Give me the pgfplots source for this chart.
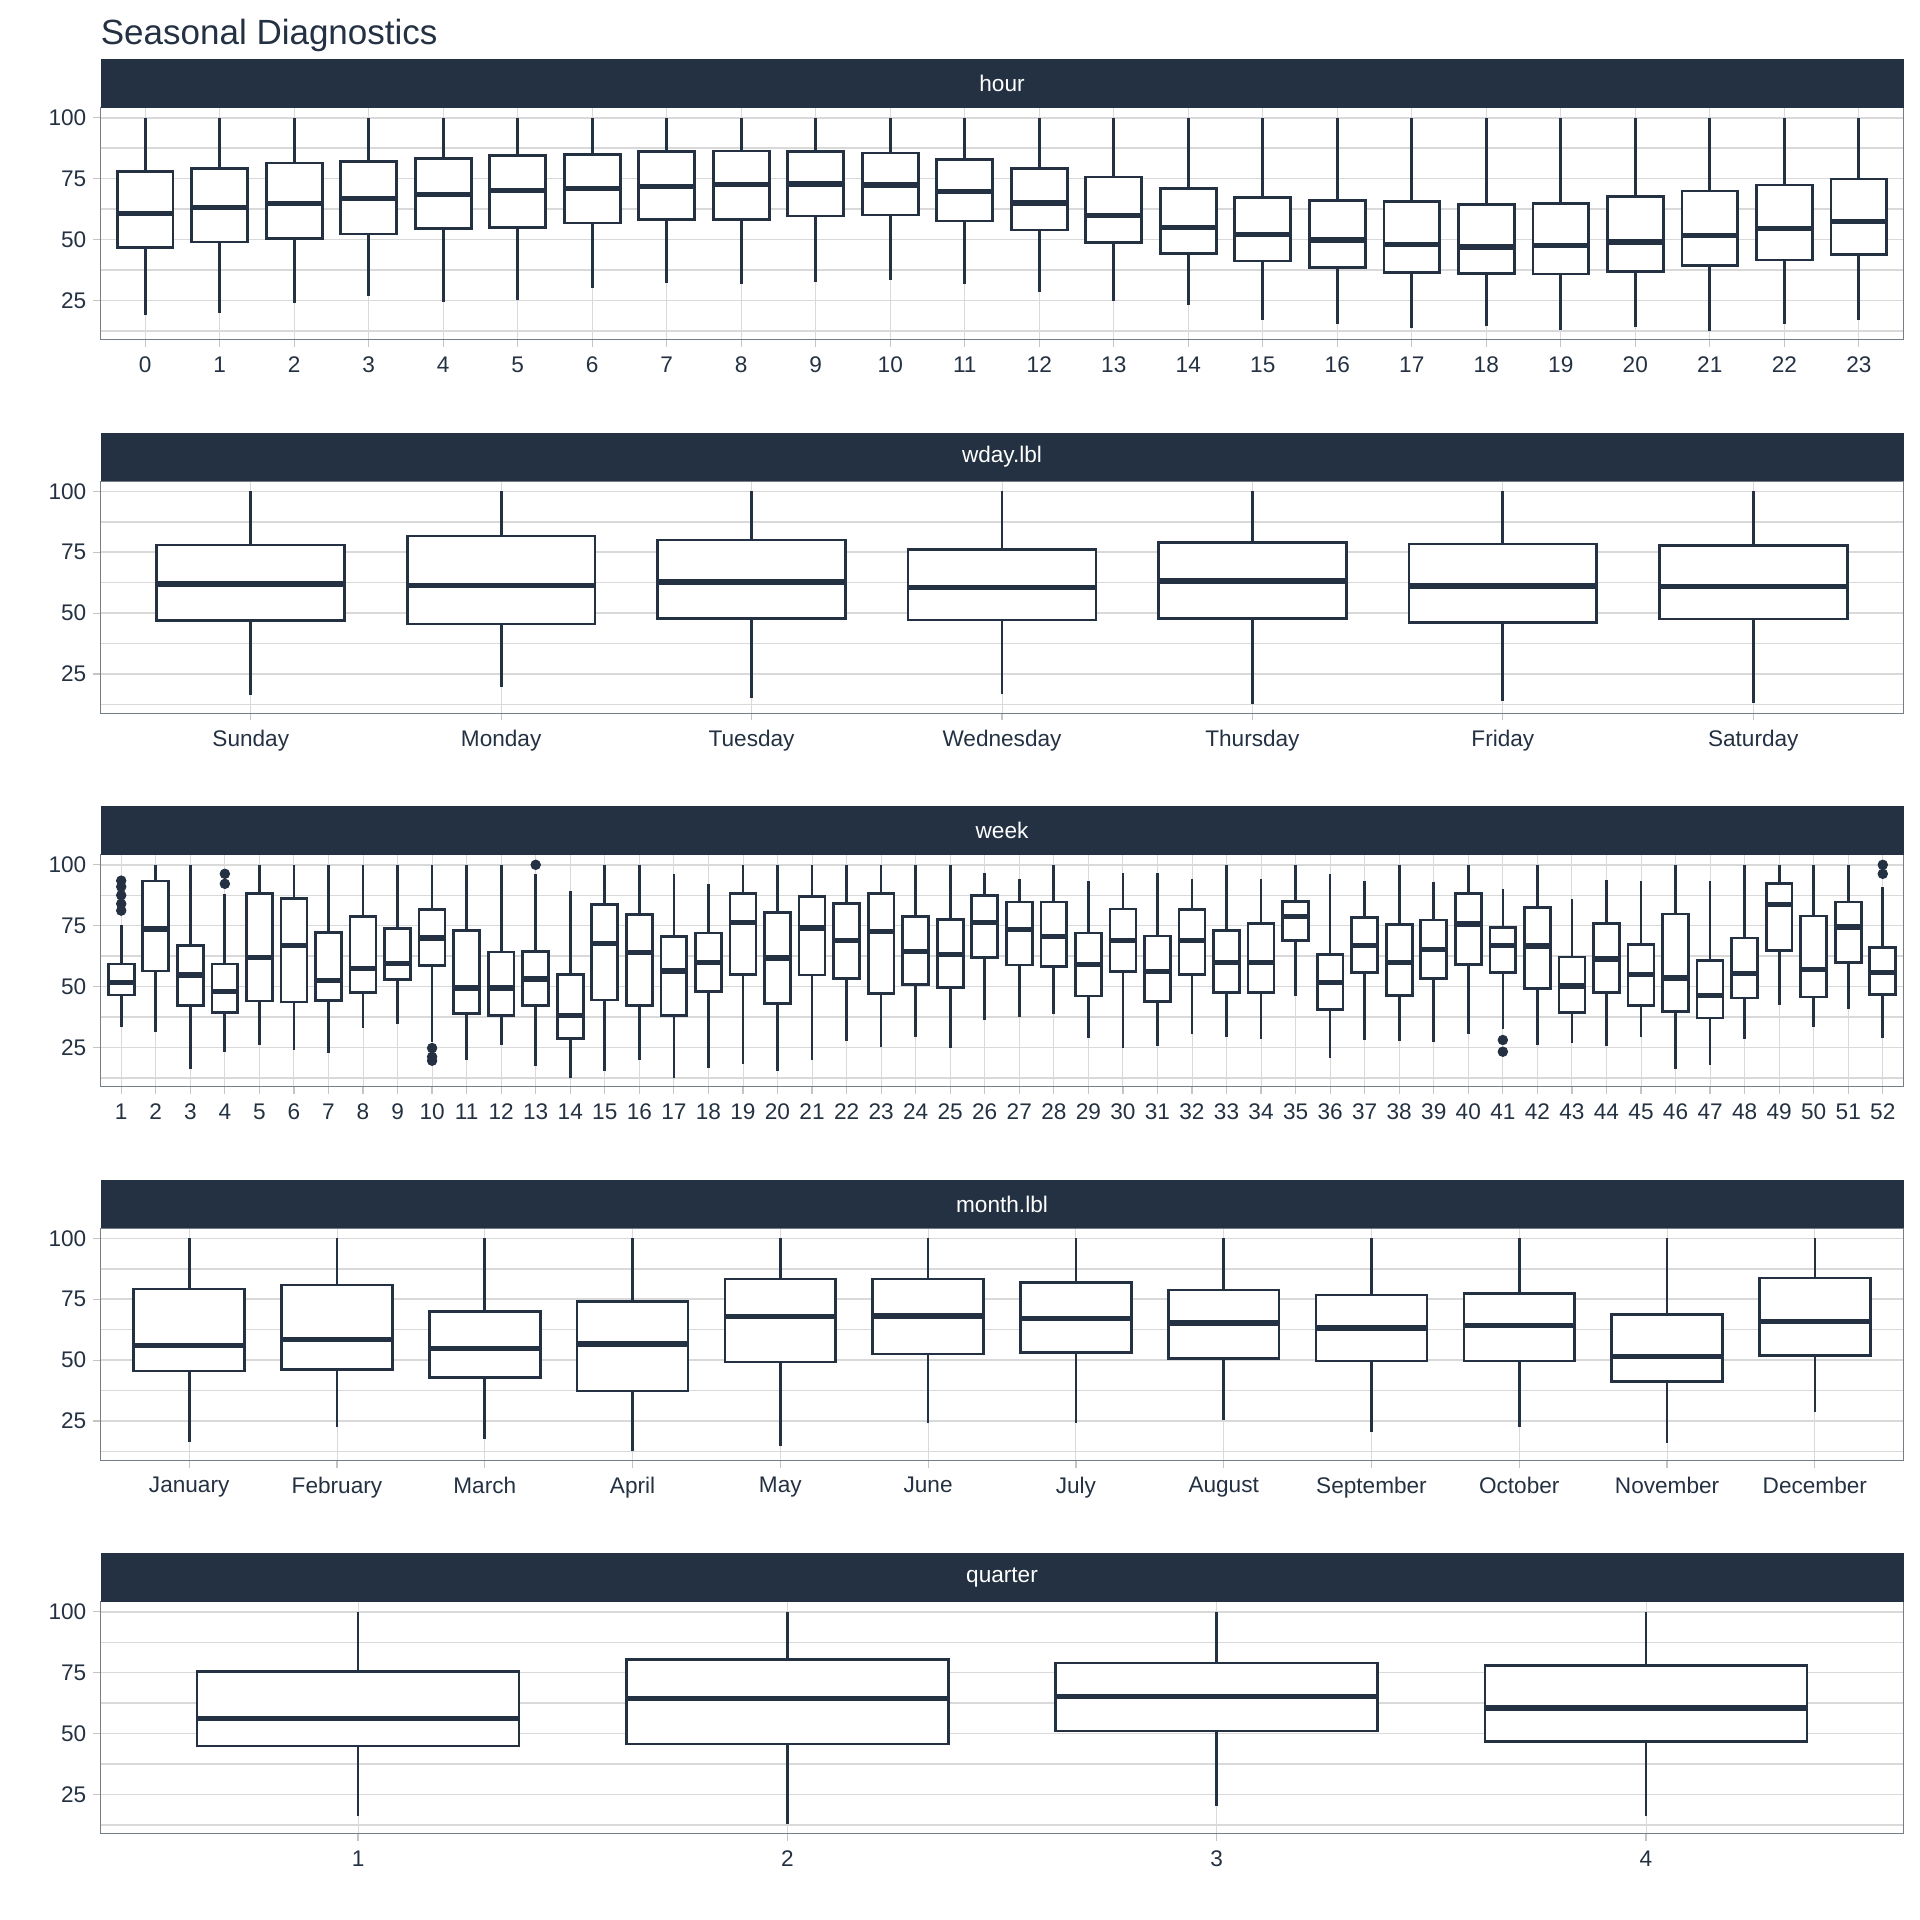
\documentclass[border=0pt]{standalone}
\usepackage{pgfplots}
\pgfplotsset{compat=1.18}
\usepgfplotslibrary{statistics}
\usepackage{fontspec}
\setmainfont{Liberation Sans}
\definecolor{navy}{HTML}{243142}
\definecolor{gridc}{HTML}{D9D9D9}
\definecolor{tickc}{HTML}{C4C4C4}
\definecolor{bordc}{HTML}{757D86}
\newcommand\ticksize{\fontsize{11.3}{13}\selectfont}
\newcommand\stripsize{\fontsize{11.3}{13}\selectfont}
\pgfplotsset{
  /pgf/number format/assume math mode=true,
  panel/.style={
    scale only axis, width=901.5pt, height=116pt,
    anchor=north west,
    ymin=8.9, ymax=104.1,
    ytick={25,50,75,100}, minor ytick={12.5,37.5,62.5,87.5},
    ymajorgrids, yminorgrids, xmajorgrids,
    major y grid style={gridc, line width=0.75pt},
    minor y grid style={gridc, line width=0.75pt},
    major x grid style={gridc, line width=0.45pt},
    axis line style={bordc, line width=0.6pt},
    tick style={tickc, line width=0.6pt},
    tick align=outside, major tick length=3.6pt, minor tick length=0pt,
    xtick pos=bottom, ytick pos=left,
    tick label style={font=\ticksize, text=navy},
    xticklabel style={yshift=-1.2pt},
  },
  box/.style={draw=navy, fill=white, line width=1.35pt, solid, mark=none,
    boxplot/draw direction=y,
    boxplot/box extend=0.75, boxplot/whisker extend=0,
    boxplot/every median/.style={line width=2.7pt}},
  qbox/.style={box, boxplot/box extend=7.5},
  bx/.style n args={6}{boxplot prepared={draw position=#1, lower whisker=#2, lower quartile=#3, median=#4, upper quartile=#5, upper whisker=#6}},
  outl/.style={only marks, mark=*, mark size=2.4pt, navy, mark options={draw=navy, fill=navy}},
}
\newcommand\strip[2]{%
  \fill[navy] (#1.north west) rectangle ([yshift=24.3pt]#1.north east);
  \node[text=white, font=\stripsize] at ([yshift=12.15pt]#1.north) {#2};
}
\begin{document}
\begin{tikzpicture}
\path[use as bounding box] (0,0) rectangle (960pt,-960pt);
\node[anchor=base west, font=\fontsize{17.5}{20}\selectfont, text=navy, inner sep=0pt] at (50.25pt,-22.2pt) {Seasonal Diagnostics};

% ---------------- hour ----------------
\begin{axis}[panel, name=hourax, at={(50.25pt,-53.9pt)}, xmin=-0.6, xmax=23.6, xtick={0,...,23}]
\addplot[box, bx={0}{19.1}{46.8}{60.8}{78.0}{100}] coordinates {};
\addplot[box, bx={1}{19.8}{49.0}{63.1}{79.2}{100}] coordinates {};
\addplot[box, bx={2}{24.1}{50.6}{64.9}{81.5}{100}] coordinates {};
\addplot[box, bx={3}{26.7}{52.3}{66.8}{82.2}{100}] coordinates {};
\addplot[box, bx={4}{24.3}{54.5}{68.4}{83.4}{100}] coordinates {};
\addplot[box, bx={5}{25.2}{55.1}{70.2}{84.4}{100}] coordinates {};
\addplot[box, bx={6}{30.0}{56.8}{71.1}{84.9}{100}] coordinates {};
\addplot[box, bx={7}{32.1}{58.2}{71.7}{86.1}{100}] coordinates {};
\addplot[box, bx={8}{31.6}{58.3}{72.7}{86.4}{100}] coordinates {};
\addplot[box, bx={9}{32.8}{59.7}{72.8}{86.3}{100}] coordinates {};
\addplot[box, bx={10}{33.5}{60.1}{72.4}{85.6}{100}] coordinates {};
\addplot[box, bx={11}{31.8}{57.6}{69.8}{83.0}{100}] coordinates {};
\addplot[box, bx={12}{28.7}{54.0}{65.0}{79.3}{100}] coordinates {};
\addplot[box, bx={13}{25.0}{48.8}{59.9}{75.7}{100}] coordinates {};
\addplot[box, bx={14}{23.2}{44.4}{55.1}{71.1}{100}] coordinates {};
\addplot[box, bx={15}{17.0}{41.2}{52.0}{67.4}{100}] coordinates {};
\addplot[box, bx={16}{15.4}{38.7}{49.8}{66.1}{100}] coordinates {};
\addplot[box, bx={17}{13.6}{36.5}{48.0}{65.7}{100}] coordinates {};
\addplot[box, bx={18}{14.4}{36.1}{46.9}{64.3}{100}] coordinates {};
\addplot[box, bx={19}{12.8}{35.9}{47.7}{64.9}{100}] coordinates {};
\addplot[box, bx={20}{14.3}{36.9}{49.1}{67.6}{100}] coordinates {};
\addplot[box, bx={21}{12.5}{39.5}{51.6}{70.0}{100}] coordinates {};
\addplot[box, bx={22}{15.5}{41.7}{54.6}{72.4}{100}] coordinates {};
\addplot[box, bx={23}{17.0}{44.0}{57.5}{74.9}{100}] coordinates {};
\end{axis}
\strip{hourax}{hour}

% ---------------- wday ----------------
\begin{axis}[panel, name=wdayax, at={(50.25pt,-240.65pt)}, xmin=0.4, xmax=7.6, xtick={1,...,7},
  xticklabels={Sunday,Monday,Tuesday,Wednesday,Thursday,Friday,Saturday}]
\addplot[box, bx={1}{16.4}{46.9}{62.0}{78.0}{100}] coordinates {};
\addplot[box, bx={2}{19.7}{45.6}{61.4}{81.7}{100}] coordinates {};
\addplot[box, bx={3}{15.0}{47.7}{62.7}{80.0}{100}] coordinates {};
\addplot[box, bx={4}{16.7}{47.2}{60.5}{76.1}{100}] coordinates {};
\addplot[box, bx={5}{12.7}{47.9}{63.2}{78.9}{100}] coordinates {};
\addplot[box, bx={6}{14.1}{46.2}{61.1}{78.4}{100}] coordinates {};
\addplot[box, bx={7}{13.0}{47.6}{60.9}{77.7}{100}] coordinates {};
\end{axis}
\strip{wdayax}{wday.lbl}

% ---------------- week ----------------
\begin{axis}[panel, name=weekax, at={(50.25pt,-427.4pt)}, xmin=0.4, xmax=52.6, xtick={1,...,52}]
\addplot[box, bx={1}{33.6}{46.6}{51.6}{59.3}{75.1}] coordinates {};
\addplot[box, bx={2}{31.2}{56.4}{73.6}{93.4}{100}] coordinates {};
\addplot[box, bx={3}{16.2}{42.3}{54.7}{66.8}{100}] coordinates {};
\addplot[box, bx={4}{23.3}{39.3}{47.9}{59.3}{88.1}] coordinates {};
\addplot[box, bx={5}{25.9}{44.1}{61.9}{88.1}{100}] coordinates {};
\addplot[box, bx={6}{24.2}{43.7}{67.0}{86.3}{100}] coordinates {};
\addplot[box, bx={7}{22.6}{44.2}{52.6}{72.3}{100}] coordinates {};
\addplot[box, bx={8}{32.9}{47.5}{57.5}{78.8}{100}] coordinates {};
\addplot[box, bx={9}{34.7}{53.0}{59.6}{73.8}{100}] coordinates {};
\addplot[box, bx={10}{27.1}{58.8}{69.9}{81.6}{100}] coordinates {};
\addplot[box, bx={11}{19.9}{39.0}{49.5}{72.9}{100}] coordinates {};
\addplot[box, bx={12}{26.2}{38.1}{49.5}{64.2}{100}] coordinates {};
\addplot[box, bx={13}{17.4}{42.2}{53.2}{64.4}{96.3}] coordinates {};
\addplot[box, bx={14}{12.7}{28.8}{38.2}{55.1}{89.2}] coordinates {};
\addplot[box, bx={15}{15.2}{44.5}{67.8}{83.8}{100}] coordinates {};
\addplot[box, bx={16}{19.9}{42.2}{64.1}{79.5}{100}] coordinates {};
\addplot[box, bx={17}{12.7}{38.1}{56.4}{70.5}{96.4}] coordinates {};
\addplot[box, bx={18}{16.8}{47.9}{59.9}{72.0}{92.2}] coordinates {};
\addplot[box, bx={19}{18.1}{55.0}{76.3}{88.1}{100}] coordinates {};
\addplot[box, bx={20}{15.4}{43.1}{61.8}{80.5}{100}] coordinates {};
\addplot[box, bx={21}{19.9}{54.8}{74.1}{86.9}{100}] coordinates {};
\addplot[box, bx={22}{27.7}{53.2}{69.0}{84.2}{100}] coordinates {};
\addplot[box, bx={23}{25.4}{47.2}{72.7}{88.3}{100}] coordinates {};
\addplot[box, bx={24}{29.2}{50.9}{64.4}{78.7}{100}] coordinates {};
\addplot[box, bx={25}{24.7}{49.7}{63.2}{77.6}{100}] coordinates {};
\addplot[box, bx={26}{36.2}{61.9}{76.3}{87.4}{96.7}] coordinates {};
\addplot[box, bx={27}{37.5}{58.9}{73.5}{84.7}{94.0}] coordinates {};
\addplot[box, bx={28}{38.6}{58.3}{70.5}{84.7}{100}] coordinates {};
\addplot[box, bx={29}{29.1}{46.1}{59.1}{72.0}{93.5}] coordinates {};
\addplot[box, bx={30}{24.7}{56.2}{69.0}{81.9}{96.5}] coordinates {};
\addplot[box, bx={31}{25.6}{43.9}{56.2}{70.8}{96.7}] coordinates {};
\addplot[box, bx={32}{30.6}{55.1}{68.9}{81.7}{94.0}] coordinates {};
\addplot[box, bx={33}{29.5}{47.7}{59.9}{73.0}{100}] coordinates {};
\addplot[box, bx={34}{28.5}{47.7}{60.0}{76.0}{94.0}] coordinates {};
\addplot[box, bx={35}{46.1}{68.9}{78.7}{85.0}{100}] coordinates {};
\addplot[box, bx={36}{20.6}{40.7}{51.7}{63.2}{96.3}] coordinates {};
\addplot[box, bx={37}{28.1}{55.8}{66.8}{78.4}{93.3}] coordinates {};
\addplot[box, bx={38}{27.8}{46.5}{59.9}{75.4}{100}] coordinates {};
\addplot[box, bx={39}{27.3}{53.2}{65.3}{77.4}{92.9}] coordinates {};
\addplot[box, bx={40}{30.4}{59.1}{75.7}{88.1}{100}] coordinates {};
\addplot[box, bx={41}{32.6}{55.7}{67.0}{74.2}{90.0}] coordinates {};
\addplot[box, bx={42}{26.0}{49.1}{66.6}{82.4}{100}] coordinates {};
\addplot[box, bx={43}{26.9}{39.4}{50.2}{62.2}{86.1}] coordinates {};
\addplot[box, bx={44}{25.8}{47.7}{61.4}{76.0}{93.6}] coordinates {};
\addplot[box, bx={45}{29.5}{42.4}{55.0}{67.4}{93.3}] coordinates {};
\addplot[box, bx={46}{16.4}{39.7}{53.5}{79.8}{100}] coordinates {};
\addplot[box, bx={47}{17.9}{37.1}{46.4}{60.6}{93.3}] coordinates {};
\addplot[box, bx={48}{28.4}{45.4}{55.4}{70.0}{100}] coordinates {};
\addplot[box, bx={49}{42.3}{64.8}{83.8}{92.2}{100}] coordinates {};
\addplot[box, bx={50}{33.3}{45.8}{57.0}{79.0}{100}] coordinates {};
\addplot[box, bx={51}{40.7}{59.8}{74.5}{84.7}{100}] coordinates {};
\addplot[box, bx={52}{28.9}{46.8}{55.8}{66.0}{90.9}] coordinates {};
\addplot[outl] coordinates {(1,93.5) (1,91.0) (1,87.5) (1,84.0) (1,81.2)
  (4,96.3) (4,92.2) (10,24.8) (10,21.2) (10,19.6) (13,100)
  (41,28.1) (41,23.3) (52,100) (52,96.3)};
\end{axis}
\strip{weekax}{week}

% ---------------- month ----------------
\begin{axis}[panel, name=monthax, at={(50.25pt,-614.15pt)}, xmin=0.4, xmax=12.6, xtick={1,...,12},
  xticklabels={January,February,March,April,May,June,July,August,September,October,November,December}]
\addplot[box, bx={1}{16.3}{45.6}{56.0}{79.2}{100}] coordinates {};
\addplot[box, bx={2}{22.7}{46.2}{58.4}{80.8}{100}] coordinates {};
\addplot[box, bx={3}{17.5}{43.0}{54.7}{70.1}{100}] coordinates {};
\addplot[box, bx={4}{12.7}{37.4}{56.6}{74.1}{100}] coordinates {};
\addplot[box, bx={5}{14.9}{49.3}{67.9}{83.3}{100}] coordinates {};
\addplot[box, bx={6}{24.4}{52.5}{68.1}{83.3}{100}] coordinates {};
\addplot[box, bx={7}{24.4}{53.2}{67.1}{81.8}{100}] coordinates {};
\addplot[box, bx={8}{25.5}{50.8}{65.2}{78.8}{100}] coordinates {};
\addplot[box, bx={9}{20.4}{49.6}{63.2}{76.7}{100}] coordinates {};
\addplot[box, bx={10}{22.7}{49.6}{64.2}{77.3}{100}] coordinates {};
\addplot[box, bx={11}{16.0}{41.1}{51.5}{68.8}{100}] coordinates {};
\addplot[box, bx={12}{28.6}{51.9}{65.9}{83.7}{100}] coordinates {};
\end{axis}
\strip{monthax}{month.lbl}

% ---------------- quarter (positions x10) ----------------
\begin{axis}[panel, name=quarterax, at={(50.25pt,-800.9pt)}, xmin=4, xmax=46,
  xtick={10,20,30,40}, xticklabels={1,2,3,4}]
\addplot[qbox, bx={10}{16.4}{44.9}{56.3}{75.5}{100}] coordinates {};
\addplot[qbox, bx={20}{13.0}{45.8}{64.5}{80.4}{100}] coordinates {};
\addplot[qbox, bx={30}{20.5}{51.1}{65.2}{79.0}{100}] coordinates {};
\addplot[qbox, bx={40}{16.3}{46.7}{60.5}{78.0}{100}] coordinates {};
\end{axis}
\strip{quarterax}{quarter}
\end{tikzpicture}
\end{document}
